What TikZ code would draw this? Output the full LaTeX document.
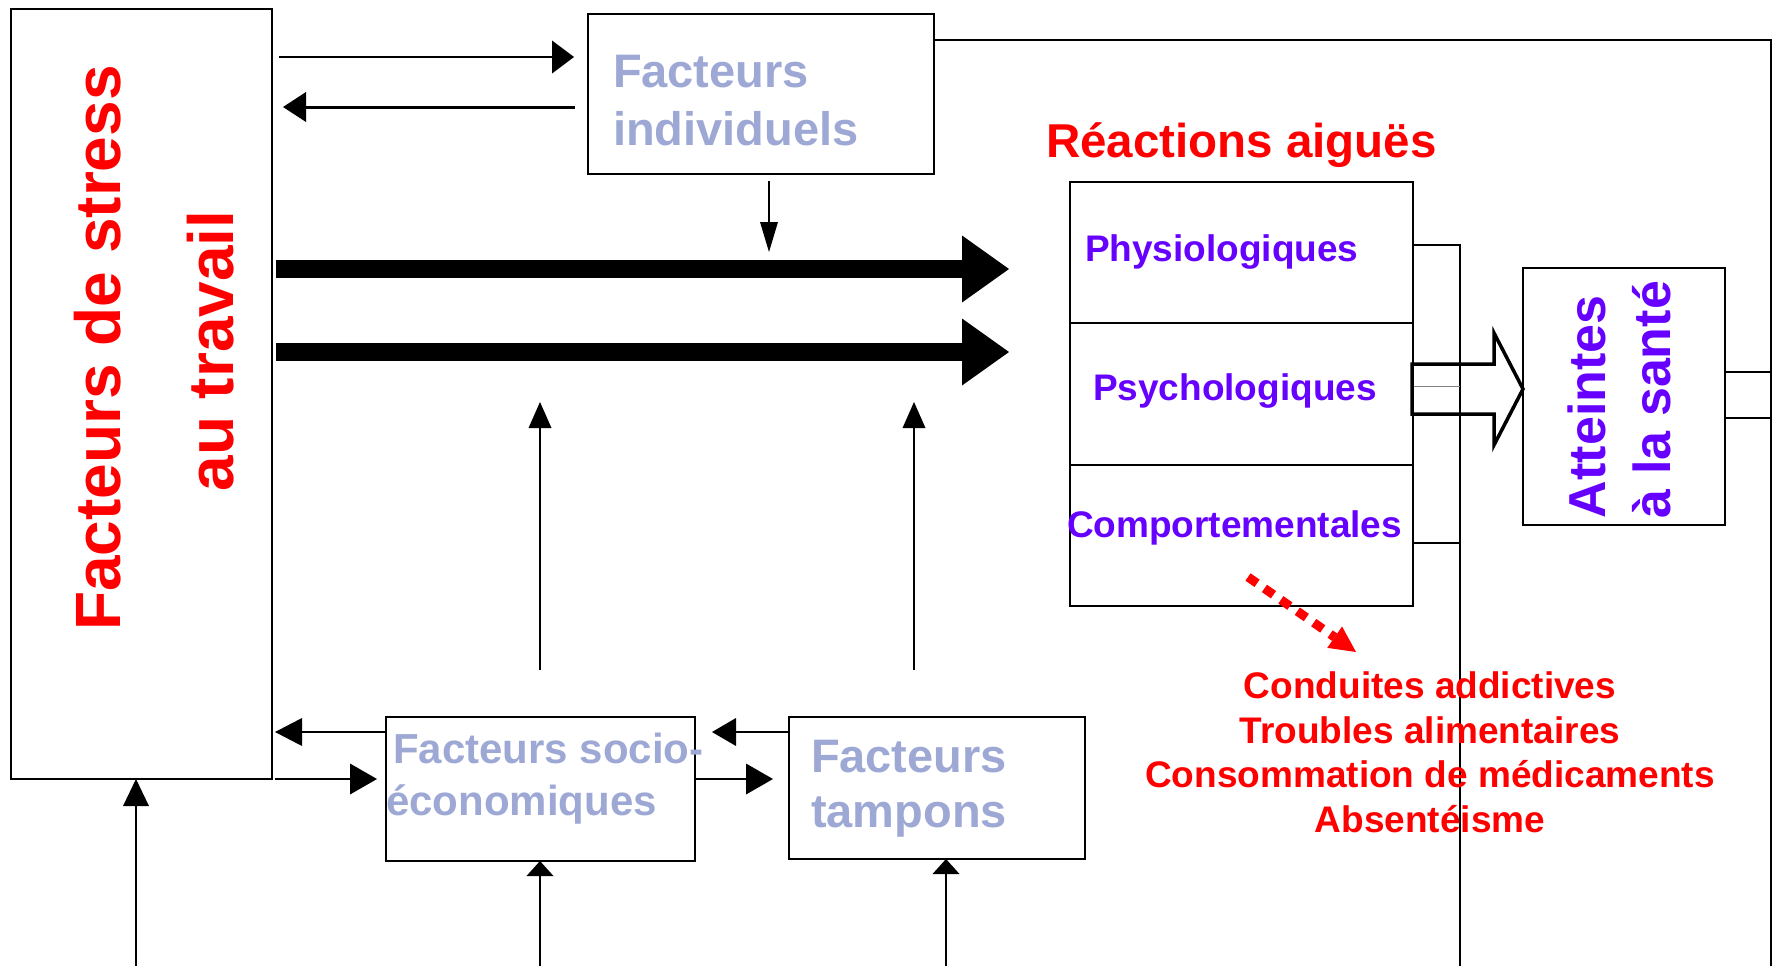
\documentclass[tikz,border=0pt]{standalone}
\usepackage{fontspec}
\setmainfont{Liberation Sans}
\usetikzlibrary{arrows.meta}
\definecolor{fblue}{RGB}{158,168,212}
\definecolor{fpurple}{RGB}{102,0,255}
\definecolor{fred}{RGB}{255,0,0}
\newcommand\myfs[1]{\fontsize{#1}{#1}\selectfont\bfseries}
\begin{document}
\begin{tikzpicture}[x=1pt,y=-1pt,
  box/.style={draw, line width=2pt, inner sep=0pt, outer sep=0pt, anchor=north west},
  lbl/.style={inner sep=0pt, outer sep=0pt, anchor=base west},
  hd/.style 2 args={-{Triangle[length=#1pt,width=#2pt,line width=0pt]}},
  conn/.style={line width=1.6pt},
  wire/.style={line width=1.8pt}]
\useasboundingbox (0,0) rectangle (1776,966);
\fill[white] (0,0) rectangle (1776,966);
% boxes
\node[box, minimum width=261pt, minimum height=770pt] (lbox) at (11,9) {};
\node[box, minimum width=346pt, minimum height=160pt] (fi) at (588,14) {};
\node[box, minimum width=309pt, minimum height=144pt] (socio) at (386,717) {};
\node[box, minimum width=296pt, minimum height=142pt, line width=2.5pt] (tamp) at (789,717) {};
\node[box, minimum width=343pt, minimum height=141pt] (phys) at (1070,182) {};
\node[box, minimum width=343pt, minimum height=142pt] (psych) at (1070,323) {};
\node[box, minimum width=343pt, minimum height=141pt] (comp) at (1070,465) {};
\node[box, minimum width=202pt, minimum height=257pt] (att) at (1523,268) {};
% free-end coordinates
\coordinate (j1) at (769,252);
\coordinate (u1) at (540,402);
\coordinate (u2) at (914,402);
\coordinate (b1) at (136,966);
\coordinate (b2) at (540,966);
\coordinate (b3) at (946,966);
\coordinate (d1) at (1248,577);
\coordinate (d2) at (1356,652);
\coordinate (r1) at (1771,40);
\coordinate (r2) at (1771,966);
\coordinate (v1) at (1460,245);
\coordinate (v2) at (1460,966);
% connectors top-left
\draw[conn, hd={22}{33}, shorten <=7pt, shorten >=14pt] (lbox.east |- 0,57) -- (fi.west |- 0,57);
\draw[line width=3pt, hd={23}{30}, shorten <=13pt, shorten >=11pt] (fi.west |- 0,107) -- (lbox.east |- 0,107);
\draw[conn, hd={30}{18}, shorten <=7pt] (fi.south -| j1) -- (j1);
% thick arrows
\draw[line width=18pt, hd={47}{67}, shorten <=4pt, shorten >=61pt] (lbox.east |- 0,269) -- (phys.west |- 0,269);
\draw[line width=18pt, hd={47}{67}, shorten <=4pt, shorten >=61pt] (lbox.east |- 0,352) -- (psych.west |- 0,352);
% up arrows
\draw[conn, hd={26}{23}, shorten <=47pt] (socio.north -| u1) -- (u1);
\draw[conn, hd={26}{23}, shorten <=47pt] (tamp.north -| u2) -- (u2);
% bottom-left arrows
\draw[line width=2.5pt, hd={27}{28}, shorten >=3pt] (socio.west |- 0,732) -- (lbox.east |- 0,732);
\draw[line width=2.5pt, hd={27}{31}, shorten <=3pt, shorten >=9pt] (lbox.east |- 0,779) -- (socio.west |- 0,779);
\draw[line width=2.5pt, hd={27}{31}, shorten >=16pt] (socio.east |- 0,779) -- (tamp.west |- 0,779);
\draw[line width=2.5pt, hd={24}{28}, shorten >=17pt] (tamp.west |- 0,732) -- (socio.east |- 0,732);
\draw[conn, hd={27}{26}] (b1) -- (lbox.south -| b1);
\draw[conn, hd={15}{27}] (b2) -- (socio.south -| b2);
\draw[conn, hd={15}{27}] (b3) -- (tamp.south -| b3);
% right side wiring
\draw[line width=2pt] (fi.east |- r1) -- (r1) -- (r2);
\draw[wire] (att.east |- 0,372) -- (r1 |- 0,372);
\draw[wire] (att.east |- 0,418) -- (r1 |- 0,418);
\draw[wire] (phys.east |- v1) -- (v1) -- (v2);
\draw[wire] (comp.east |- 0,543) -- (v1 |- 0,543);
\draw[gray, line width=1pt] (psych.east |- 0,386) -- (v1 |- 0,386);
% hollow arrow
\draw[line width=3.5pt, line join=miter] (1412,364) -- (1494,364) -- (1494,333) -- (1523,389) -- (1494,445) -- (1494,414) -- (1412,414) -- cycle;
% dotted red arrow
\draw[fred, line width=9pt, dash pattern=on 11pt off 9pt, hd={26}{26}] (d1) -- (d2);
% texts
\node[lbl, anchor=base, rotate=90, text=fred] (t1) at (120,348) {\myfs{64}Facteurs de stress};
\node[lbl, anchor=base, rotate=90, text=fred] (t2) at (233,351) {\myfs{64}au travail};
\node[lbl, text=fblue] (tfi1) at (613,87) {\myfs{47}Facteurs};
\node[lbl, text=fblue] (tfi2) at (613,145) {\myfs{47}individuels};
\node[lbl, text=fred] (trea) at (1046,157) {\myfs{47.5}Réactions aiguës};
\node[lbl, text=fpurple] (tph) at (1085,261) {\myfs{37}Physiologiques};
\node[lbl, text=fpurple] (tps) at (1093,400) {\myfs{37}Psychologiques};
\node[lbl, text=fpurple] (tco) at (1067,537) {\myfs{37}Comportementales};
\node[lbl, rotate=90, text=fpurple] (tat1) at (1605,518) {\myfs{52}Atteintes};
\node[lbl, rotate=90, text=fpurple] (tat2) at (1670,518) {\myfs{52}à la santé};
\node[lbl, text=fblue] (tso1) at (393,763) {\myfs{42}Facteurs socio-};
\node[lbl, text=fblue] (tso2) at (386,815) {\myfs{42}économiques};
\node[lbl, text=fblue] (tta1) at (811,772) {\myfs{47}Facteurs};
\node[lbl, text=fblue] (tta2) at (811,827) {\myfs{47}tampons};
\node[lbl, anchor=base, text=fred] (l1) at (1430,698) {\myfs{37}Conduites addictives};
\node[lbl, anchor=base, text=fred] (l2) at (1430,743) {\myfs{37}Troubles alimentaires};
\node[lbl, anchor=base, text=fred] (l3) at (1430,787) {\myfs{37}Consommation de médicaments};
\node[lbl, anchor=base, text=fred] (l4) at (1430,832) {\myfs{37}Absentéisme};
\end{tikzpicture}
\end{document}
